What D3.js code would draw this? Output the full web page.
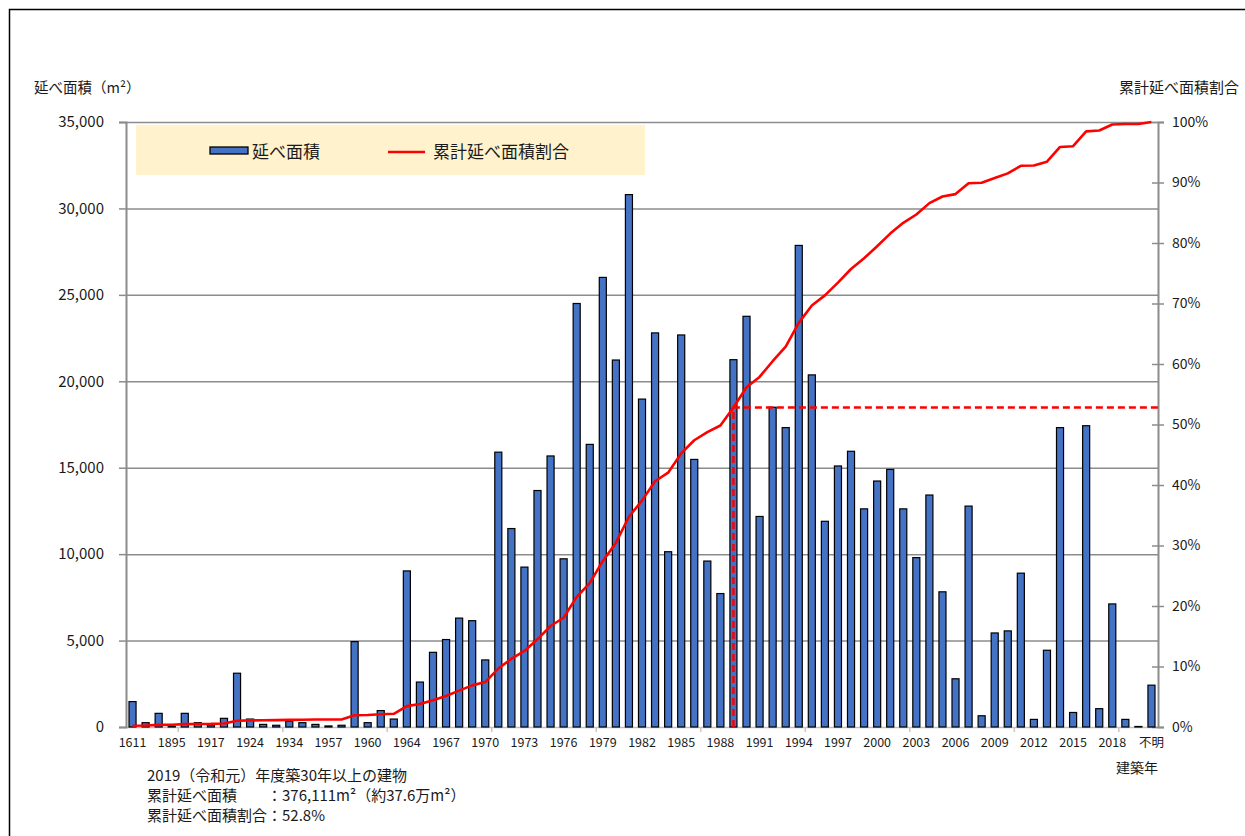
<!DOCTYPE html>
<html>
<head>
<meta charset="utf-8">
<script src="https://cdn.jsdelivr.net/npm/d3@7"></script>
<style>
  body { margin: 0; background: #fff; }
  svg text { font-family: "Noto Sans CJK JP", "Noto Sans", sans-serif; fill: #1a1a1a; }
</style>
</head>
<body>
<script>
// building year categories (only every 3rd one is labelled on the axis)
const categories = ['1611','1868','1890','1895','1900','1912','1917','1920','1921','1924','1926','1930','1934','1937','1950','1957','1958','1959','1960','1962','1963',
  '1964','1965','1966','1967','1968','1969','1970','1971','1972','1973','1974','1975','1976','1977','1978','1979','1980',
  '1981','1982','1983','1984','1985','1986','1987','1988','1989','1990','1991','1992','1993','1994','1995','1996','1997',
  '1998','1999','2000','2001','2002','2003','2004','2005','2006','2007','2008','2009','2010','2011','2012','2013','2014',
  '2015','2016','2017','2018','2019','2020','不明']

// 延べ面積 (m2)
const floorArea = [1470,250,790,40,790,250,120,500,3111,460,150,100,330,250,150,60,100,4940,250,950,460,
  9030,2600,4320,5060,6300,6150,3880,15900,11480,9250,13680,15680,9730,24500,16350,26010,21230,
  30800,18970,22800,10140,22680,15480,9600,7720,21250,23760,12180,18500,17320,27860,20370,11900,15100,
  15950,12620,14230,14900,12620,9800,13420,7820,2790,12780,650,5440,5560,8900,440,4440,17320,
  840,17430,1060,7120,440,30,2420]

// 累計延べ面積割合 (%)
const cumShare = [0.21,0.24,0.35,0.36,0.47,0.50,0.52,0.59,1.03,1.09,1.11,1.13,1.17,1.21,1.23,1.24,1.25,1.95,1.98,2.11,2.18,
  3.45,3.81,4.42,5.13,6.01,6.88,7.42,9.66,11.27,12.57,14.49,16.69,18.06,21.50,23.79,27.45,30.43,
  34.75,37.42,40.62,42.04,45.23,47.40,48.75,49.83,52.82,56.15,57.86,60.46,62.89,66.80,69.67,71.34,73.46,
  75.70,77.47,79.47,81.56,83.33,84.71,86.59,87.69,88.08,89.88,89.97,90.73,91.51,92.76,92.82,93.45,95.88,
  96.00,98.45,98.59,99.59,99.66,99.66,100.00]

const xTickLabels = ['1611','1895','1917','1924','1934','1957','1960','1964','1967','1970','1973','1976','1979',
  '1982','1985','1988','1991','1994','1997','2000','2003','2006','2009','2012','2015','2018','不明']
const yTicks = [0,5000,10000,15000,20000,25000,30000,35000]
const pctTicks = [0,10,20,30,40,50,60,70,80,90,100]

const cutoffYear = '1989'
const noteLines = ['2019（令和元）年度築30年以上の建物', '累計延べ面積　　：376,111m²（約37.6万m²）', '累計延べ面積割合：52.8%']

const width = 1245
const height = 836
const plotLeft = 126, plotRight = 1158, plotTop = 122, plotBottom = 727

const svg = d3.select('body').append('svg').attr('width', width).attr('height', height)

// outer frame
svg.append('rect').attr('x', 9.5).attr('y', 9.5).attr('width', 1260).attr('height', 860)
  .attr('fill', 'none').attr('stroke', '#000').attr('stroke-width', 1.5)

const x = d3.scaleBand().domain(categories).range([plotLeft, plotRight]).paddingInner(0.46).paddingOuter(0.23)
const y = d3.scaleLinear().domain([0, 35000]).range([plotBottom, plotTop])
const yR = d3.scaleLinear().domain([0, 100]).range([plotBottom, plotTop])

// grid
const grid = svg.append('g').attr('transform', `translate(${plotLeft},0)`)
  .call(d3.axisLeft(y).tickValues(yTicks.filter(d => d > 0)).tickSize(-(plotRight - plotLeft)).tickFormat(''))
grid.select('.domain').remove()
grid.selectAll('line').attr('stroke', '#8c8c8c').attr('stroke-width', 1.5)

// legend box
svg.append('rect').attr('x', 136).attr('y', 125).attr('width', 509).attr('height', 50).attr('fill', '#fff2cc')
svg.append('rect').attr('x', 210).attr('y', 147).attr('width', 38).attr('height', 7)
  .attr('fill', '#4472c4').attr('stroke', '#000').attr('stroke-width', 1.3)
svg.append('text').attr('x', 252).attr('y', 158).attr('font-size', 17).text('延べ面積')
svg.append('line').attr('x1', 388).attr('x2', 425).attr('y1', 152).attr('y2', 152)
  .attr('stroke', '#ff0000').attr('stroke-width', 2.6)
svg.append('text').attr('x', 433).attr('y', 158).attr('font-size', 17).text('累計延べ面積割合')

// bottom axis
const xAxis = svg.append('g').attr('transform', `translate(0,${plotBottom})`)
  .call(d3.axisBottom(x).tickValues(xTickLabels).tickSize(0).tickPadding(11))
xAxis.select('.domain').attr('stroke', '#c0c0c0').attr('stroke-width', 1.5)
xAxis.selectAll('text').attr('font-size', 12.5)

// minor ticks on the category boundaries
const gap = (x.step() - x.bandwidth()) / 2
svg.append('g').selectAll('line')
  .data(categories.filter((d, i) => i % 8 === 4))
  .enter().append('line')
  .attr('x1', d => x(d) - gap).attr('x2', d => x(d) - gap)
  .attr('y1', plotBottom).attr('y2', plotBottom + 5)
  .attr('stroke', '#c8c8c8').attr('stroke-width', 1.5)

// left axis
const yAxis = svg.append('g').attr('transform', `translate(${plotLeft},0)`)
  .call(d3.axisLeft(y).tickValues(yTicks).tickSize(7).tickPadding(15).tickFormat(d3.format(',')))
yAxis.select('.domain').attr('stroke', '#8c8c8c').attr('stroke-width', 2)
yAxis.selectAll('line').attr('stroke', '#8c8c8c').attr('stroke-width', 1.5)
yAxis.selectAll('text').attr('font-size', 15)

// right axis
const yAxisR = svg.append('g').attr('transform', `translate(${plotRight},0)`)
  .call(d3.axisRight(yR).tickValues(pctTicks).tickSize(6).tickPadding(8).tickFormat(d => d + '%'))
yAxisR.select('.domain').attr('stroke', '#8c8c8c').attr('stroke-width', 2)
yAxisR.selectAll('line').attr('x1', -6).attr('stroke', '#8c8c8c').attr('stroke-width', 1.5)
yAxisR.selectAll('text').attr('font-size', 14)

// bars
svg.append('g').selectAll('rect')
  .data(categories)
  .enter().append('rect')
  .attr('x', d => x(d))
  .attr('width', x.bandwidth())
  .attr('y', (d, i) => y(floorArea[i]))
  .attr('height', (d, i) => plotBottom - y(floorArea[i]))
  .attr('fill', '#4472c4')
  .attr('stroke', '#000')
  .attr('stroke-width', 1.2)

// 30-year cutoff
const cx = x(cutoffYear) + x.bandwidth() / 2
const cy = yR(cumShare[categories.indexOf(cutoffYear)])
svg.append('path')
  .attr('d', `M${cx},${plotBottom}V${cy}H${plotRight}`)
  .attr('fill', 'none').attr('stroke', '#ff0000').attr('stroke-width', 2.5).attr('stroke-dasharray', '7,4')

// cumulative line
const line = d3.line().x(d => x(d) + x.bandwidth() / 2).y((d, i) => yR(cumShare[i]))
svg.append('path').datum(categories).attr('d', line)
  .attr('fill', 'none').attr('stroke', '#ff0000').attr('stroke-width', 2.6).attr('stroke-linejoin', 'round')

// titles
svg.append('text').attr('x', 34).attr('y', 93).attr('font-size', 14.5).text('延べ面積（m²）')
svg.append('text').attr('x', 1239).attr('y', 93).attr('font-size', 15).attr('text-anchor', 'end').text('累計延べ面積割合')
svg.append('text').attr('x', 1116).attr('y', 773).attr('font-size', 14).text('建築年')

svg.append('g').selectAll('text')
  .data(noteLines)
  .enter().append('text')
  .attr('x', 147).attr('y', (d, i) => 781 + i * 20)
  .attr('font-size', 15)
  .text(d => d)
</script>
</body>
</html>
